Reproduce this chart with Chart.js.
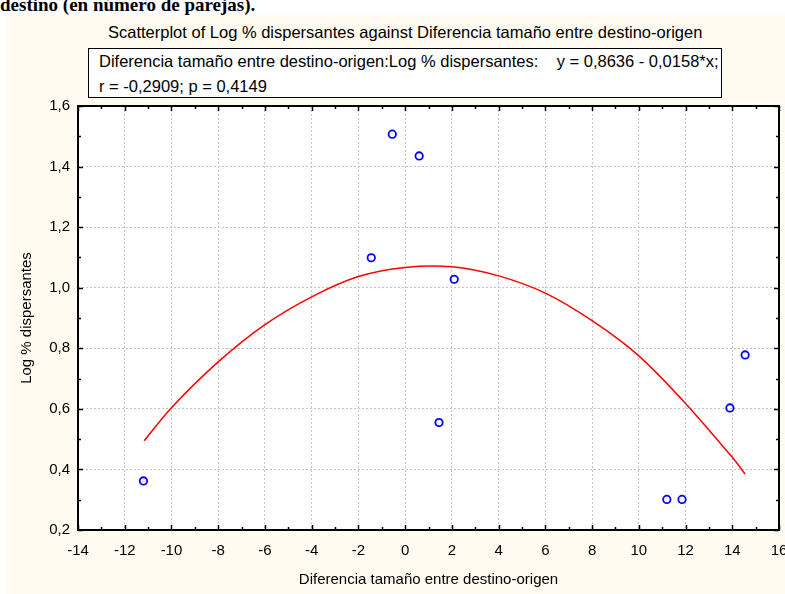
<!DOCTYPE html>
<html>
<head>
<meta charset="utf-8">
<script src="https://cdn.jsdelivr.net/npm/chart.js@4.4.1/dist/chart.umd.min.js"></script>
<style>
  body { margin: 0; width: 785px; height: 594px; overflow: hidden; background: #fff; position: relative;
         font-family: "Liberation Sans", Arial, sans-serif; color: #000; }
  #panel { position: absolute; left: 7px; top: 15px; right: 0; bottom: 0; background: #fffbf0; }
  #head { position: absolute; left: 0; top: -5px; font: bold 19px "Liberation Serif", serif; line-height: 19px; white-space: nowrap; }
  #title { position: absolute; left: 108px; top: 23px; font-size: 16.5px; line-height: 19px; white-space: nowrap; }
  #stats { position: absolute; left: 88px; top: 48px; width: 634px; height: 50px; box-sizing: border-box;
           border: 1.5px solid #000; background: #fff; font-size: 16.5px; line-height: 25px;
           padding: 0 0 0 10px; white-space: pre; }
  #wrap { position: absolute; left: 0; top: 0; width: 785px; height: 594px; }
</style>
</head>
<body>
<div id="panel"></div>
<div id="head">destino (en número de parejas).</div>
<div id="title">Scatterplot of Log % dispersantes against Diferencia tamaño entre destino-origen</div>
<div id="stats">Diferencia tamaño entre destino-origen:Log % dispersantes:    y = 0,8636 - 0,0158*x;
r = -0,2909; p = 0,4149</div>
<div id="wrap"><canvas id="scatterChart" width="785" height="594"></canvas></div>
<script>
// Observed points
const diferencia = [-11.2, -1.45, -0.55, 0.6, 1.45, 2.1, 11.2, 11.85, 13.9, 14.55];
const logDispersantes = [0.362, 1.099, 1.507, 1.435, 0.555, 1.028, 0.301, 0.301, 0.603, 0.778];

// Fitted curve, every 2 units
const curvaX = [-11.17, -10, -8, -6, -4, -2, 0, 2, 4, 6, 8, 10, 12, 14, 14.55];
const curvaY = [0.495, 0.604, 0.755, 0.878, 0.97, 1.037, 1.067, 1.069, 1.039, 0.982, 0.891, 0.775, 0.618, 0.44, 0.385];

// Axis ranges
const xRange = [-14, 16, 2];
const yRange = [0.2, 1.6, 0.2];

Chart.defaults.font.family = '"Liberation Sans", Arial, sans-serif';
Chart.defaults.font.size = 15;
Chart.defaults.color = '#000';

// white plot area, inward ticks and a black frame
const frame = {
    id: 'frame',
    beforeDraw(chart) {
        const a = chart.chartArea, c = chart.ctx;
        c.save();
        c.fillStyle = '#fff';
        c.fillRect(a.left, a.top, a.right - a.left, a.bottom - a.top);
        c.restore();
    },
    afterDatasetsDraw(chart) {
        const a = chart.chartArea, c = chart.ctx;
        const sx = chart.scales.x, sy = chart.scales.y;
        const vals = s => {
            const t = s.ticks.map(k => k.value), out = [];
            t.forEach((v, i) => {
                out.push([v, 5]);
                if (i < t.length - 1) out.push([(v + t[i + 1]) / 2, 3]);
            });
            return out;
        };
        c.save();
        c.strokeStyle = '#000';
        c.lineWidth = 1.5;
        c.beginPath();
        vals(sx).forEach(([v, len]) => {
            const p = Math.round(sx.getPixelForValue(v)) + 0.5;
            c.moveTo(p, a.bottom); c.lineTo(p, a.bottom - len);
            c.moveTo(p, a.top); c.lineTo(p, a.top + len);
        });
        vals(sy).forEach(([v, len]) => {
            const p = Math.round(sy.getPixelForValue(v)) + 0.5;
            c.moveTo(a.left, p); c.lineTo(a.left + len, p);
            c.moveTo(a.right, p); c.lineTo(a.right - len, p);
        });
        c.stroke();
        c.lineWidth = 2;
        c.strokeRect(a.left, a.top, a.right - a.left, a.bottom - a.top);
        c.restore();
    }
};

new Chart(document.getElementById('scatterChart'), {
    type: 'scatter',
    data: {
        datasets: [{
            data: diferencia.map((x, i) => ({ x: x, y: logDispersantes[i] })),
            pointRadius: 3.7,
            pointHoverRadius: 3.7,
            borderWidth: 1.8,
            borderColor: '#0000ff',
            backgroundColor: 'rgba(0,0,0,0)',
            order: 1
        }, {
            data: curvaX.map((x, i) => ({ x: x, y: curvaY[i] })),
            showLine: true,
            tension: 0.3,
            pointRadius: 0,
            borderWidth: 1.5,
            borderColor: '#ff0000',
            order: 2
        }]
    },
    options: {
        responsive: false,
        animation: false,
        layout: { padding: { left: 0, top: 106, right: 6, bottom: 0 } },
        plugins: { legend: { display: false }, title: { display: false }, tooltip: { enabled: false } },
        scales: {
            x: {
                min: xRange[0], max: xRange[1],
                ticks: { stepSize: xRange[2], padding: 12, maxRotation: 0, autoSkip: false },
                grid: { color: '#c4c4c4', drawTicks: false },
                border: { display: false, dash: [2, 2] },
                title: { display: true, text: 'Diferencia tamaño entre destino-origen', padding: { top: 0, bottom: 5 } },
                afterFit(s) { s.height = 64; s.paddingLeft = 0; s.paddingRight = 0; }
            },
            y: {
                min: yRange[0], max: yRange[1],
                ticks: {
                    stepSize: yRange[2], padding: 8,
                    callback: v => v.toFixed(1).replace('.', ',')
                },
                grid: { color: '#c4c4c4', drawTicks: false },
                border: { display: false, dash: [2, 2] },
                title: { display: true, text: 'Log % dispersantes', padding: { top: 18, bottom: 0 } },
                afterFit(s) { s.width = 78; s.paddingTop = 0; s.paddingBottom = 0; }
            }
        }
    },
    plugins: [frame]
});
</script>
</body>
</html>
